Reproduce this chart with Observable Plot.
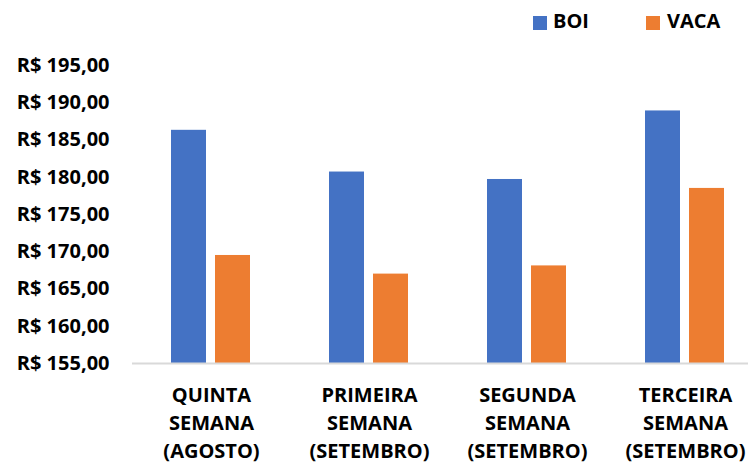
<!DOCTYPE html>
<html>
<head>
<meta charset="utf-8">
<script src="https://cdn.jsdelivr.net/npm/d3@7"></script>
<script src="https://cdn.jsdelivr.net/npm/@observablehq/plot@0.6"></script>
<style>
  html, body { margin: 0; padding: 0; background: #fff; }
  #wrap { width: 748px; height: 464px; overflow: hidden; position: relative; font-family: "Open Sans", sans-serif; font-weight: 700; }
  #legend { position: relative; width: 748px; height: 40px; }
  .sw { position: absolute; top: 16px; width: 14px; height: 14px; }
  .lt { position: absolute; top: 11px; font-size: 20px; line-height: 20px; color: #000; }
  #chart svg { display: block; }
</style>
</head>
<body>
<div id="wrap">
  <div id="legend"></div>
  <div id="chart"></div>
</div>
<script>
const categories = [
  "QUINTA\nSEMANA\n(AGOSTO)",
  "PRIMEIRA\nSEMANA\n(SETEMBRO)",
  "SEGUNDA\nSEMANA\n(SETEMBRO)",
  "TERCEIRA\nSEMANA\n(SETEMBRO)"
];
const series = ["BOI", "VACA"];
const boi = [186.3, 180.7, 179.7, 188.9];
const vaca = [169.5, 167.0, 168.1, 178.5];
const yDomain = [155, 195];
const colors = ["#4472C4", "#ED7D31"];

const rows = [];
categories.forEach((c, i) => {
  rows.push({cat: c, series: series[0], value: boi[i]});
  rows.push({cat: c, series: series[1], value: vaca[i]});
});
const catRows = categories.map(c => ({cat: c}));

// legend
const legend = document.getElementById("legend");
const legendPos = [[533, 553], [646, 667]];
series.forEach((s, i) => {
  const sw = document.createElement("div");
  sw.className = "sw";
  sw.style.left = legendPos[i][0] + "px";
  sw.style.background = colors[i];
  legend.appendChild(sw);
  const t = document.createElement("div");
  t.className = "lt";
  t.style.left = legendPos[i][1] + "px";
  t.textContent = s;
  legend.appendChild(t);
});

const fmt = d => "R$ " + d.toFixed(2).replace(".", ",");

const plot = Plot.plot({
  width: 764,
  height: 424,
  marginTop: 25,
  marginBottom: 101,
  marginLeft: 131,
  marginRight: 0,
  style: {fontFamily: "'Open Sans', sans-serif", fontWeight: 700, fontSize: "20px", color: "#000", maxWidth: "none", background: "white"},
  fx: {domain: categories, padding: 0, axis: null},
  x: {domain: series, paddingInner: 0.2, paddingOuter: 0.875, axis: null},
  y: {domain: yDomain, ticks: 8, tickFormat: fmt, tickSize: 0, tickPadding: 23, label: null},
  color: {domain: series, range: colors},
  marks: [
    Plot.barY(rows, {fx: "cat", x: "series", y1: yDomain[0], y2: "value", fill: "series"}),
    Plot.ruleY([yDomain[0]], {stroke: "#D9D9D9", strokeWidth: 2}),
    Plot.text(catRows, {fx: "cat", text: "cat", frameAnchor: "bottom", lineAnchor: "top", dy: 18, lineHeight: 1.42, fill: "#000"})
  ]
});
document.getElementById("chart").appendChild(plot);
</script>
</body>
</html>
